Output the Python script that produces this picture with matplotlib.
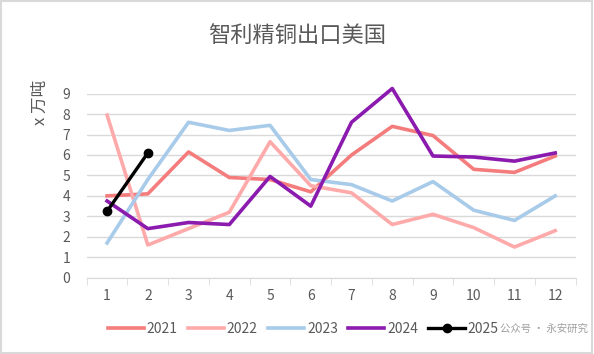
import matplotlib
matplotlib.use("Agg")
import matplotlib.pyplot as plt
from matplotlib.patches import Rectangle

plt.rcParams['font.family'] = ['Noto Sans CJK SC', 'DejaVu Sans']

months = list(range(1, 13))
y2021 = [4.0, 4.1, 6.15, 4.9, 4.8, 4.2, 6.0, 7.4, 6.95, 5.3, 5.15, 5.95]
y2022 = [7.95, 1.6, 2.4, 3.2, 6.65, 4.5, 4.15, 2.6, 3.1, 2.45, 1.5, 2.3]
y2023 = [1.7, 4.8, 7.6, 7.2, 7.45, 4.8, 4.55, 3.75, 4.7, 3.3, 2.8, 4.0]
y2024 = [3.75, 2.4, 2.7, 2.6, 4.95, 3.5, 7.6, 9.25, 5.95, 5.9, 5.7, 6.1]
months_2025 = [1, 2]
y2025 = [3.25, 6.1]

fig = plt.figure(figsize=(5.94, 3.54), dpi=100)
ax = fig.add_axes([0.146, 0.2155, 0.823, 0.52])

ax.plot(months, y2021, color='#F47C7C', lw=2.6, label='2021', clip_on=False)
ax.plot(months, y2022, color='#FFAAAA', lw=2.6, label='2022', clip_on=False)
ax.plot(months, y2023, color='#A8CBEA', lw=2.6, label='2023', clip_on=False)
ax.plot(months, y2024, color='#8B1AAE', lw=2.6, label='2024', clip_on=False)
ax.plot(months_2025, y2025, color='black', lw=2.4, marker='o', ms=6, label='2025', clip_on=False)

ax.set_xlim(0.5, 12.5)
ax.set_ylim(0, 9)
ax.set_yticks(range(0, 10))
ax.set_xticks(months)
ax.set_xticks([m + 0.5 for m in range(0, 13)], minor=True)
ax.grid(axis='y', color='#D9D9D9', lw=1)
ax.set_axisbelow(True)
for s in ['top', 'right', 'left']:
    ax.spines[s].set_visible(False)
ax.spines['bottom'].set_color('#D9D9D9')
ax.tick_params(axis='x', which='major', length=0, pad=8, labelsize=10, labelcolor='#595959')
ax.tick_params(axis='x', which='minor', length=5, color='#D9D9D9')
ax.tick_params(axis='y', length=0, pad=12, labelsize=10, labelcolor='#595959')

fig.text(0.5, 0.9, '智利精铜出口美国', ha='center', va='center', fontsize=16, color='#595959')
fig.text(0.068, 0.71, 'x 万吨', rotation=90, ha='center', va='center', fontsize=12, color='#595959')

fig.legend(loc='center', bbox_to_anchor=(0.51, 0.07), ncol=5, frameon=False,
           fontsize=10, handlelength=2.6, columnspacing=0.75, handletextpad=0.2,
           labelcolor='#595959')
fig.text(0.99, 0.07, '公众号 · 永安研究', ha='right', va='center', fontsize=7.5, color='#A0A0A0')

fig.patches.append(Rectangle((0.002, 0.003), 0.995, 0.993, transform=fig.transFigure,
                             fill=False, edgecolor='#D9D9D9', lw=1.5))

fig.savefig('out.png', dpi=100, facecolor='white')
